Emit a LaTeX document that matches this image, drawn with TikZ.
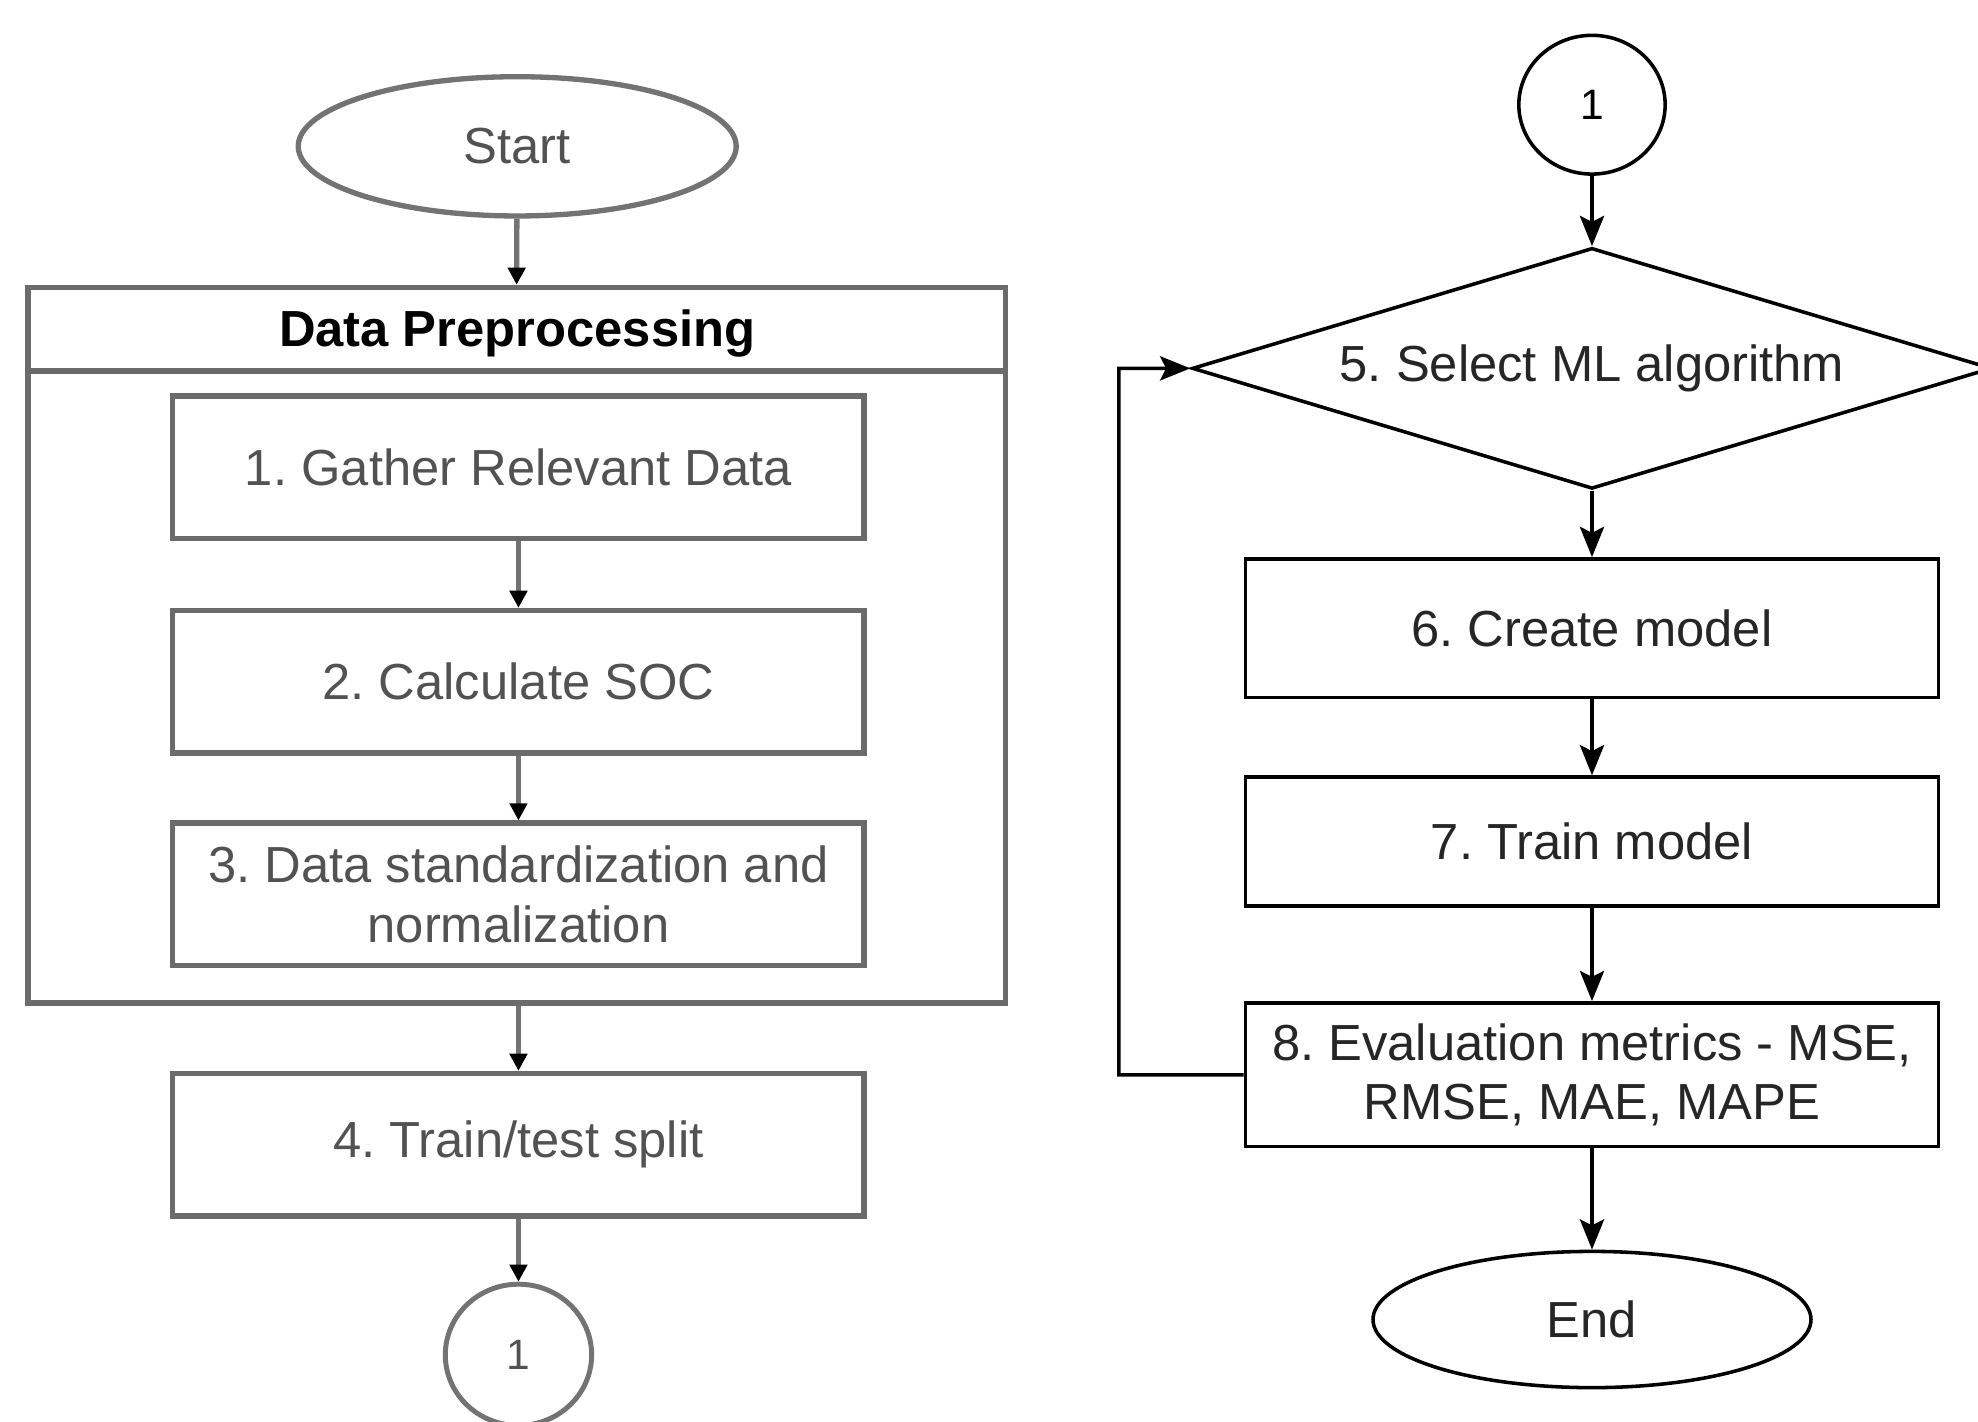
\documentclass[tikz,border=0pt]{standalone}
\usepackage{fontspec}
\setmainfont{Liberation Sans}
\frenchspacing
\usetikzlibrary{shapes.geometric,arrows.meta,positioning}

\begin{document}
\begin{tikzpicture}[node distance=2cm]
    \tikzstyle{prepbox} = [rectangle, minimum width=6.85cm, minimum height=1.4125cm, text centered, align=center, draw=black!58, line width=1.5pt, text=black!68, font=\fontsize{14.3}{16.8}\selectfont]
    \tikzstyle{mlbox} = [rectangle, minimum width=6.87cm, text centered, align=center, draw=black, line width=1pt, text=black!85, font=\fontsize{14.3}{16.8}\selectfont]
    \tikzstyle{terminal} = [ellipse, inner sep=0pt, minimum width=4.34cm, minimum height=1.38cm, font=\fontsize{14.3}{16.8}\selectfont]
    \tikzstyle{connector} = [ellipse, inner sep=0pt, minimum width=1.45cm, minimum height=1.4cm, font=\fontsize{12}{14}\selectfont]
    \tikzstyle{grayline} = [draw=black!55, line width=1.5pt, -{Triangle[length=0.17cm, width=0.17cm, color=black]}]
    \tikzstyle{blackline} = [draw=black, line width=1pt, -{Stealth[length=0.3cm, width=0.24cm, inset=0.06cm]}]

    \useasboundingbox (0,0) rectangle (19.6,-14.0875);
    \clip (0,0) rectangle (19.6,-14.0875);

    % Preprocessing column
    \node [terminal, draw=black!55, line width=1.5pt, text=black!68] (start) at (5.125,-1.45) {Start};
    \node [rectangle, draw=black!58, line width=1.6pt, minimum width=9.6875cm, minimum height=7.0875cm] (prep) at (5.11875,-6.39375) {};
    \draw [draw=black!58, line width=1.6pt] (prep.west |- 0,-3.675) -- (prep.east |- 0,-3.675);
    \node [font=\fontsize{14.3}{16.8}\selectfont\bfseries] (preptitle) at (5.125,-3.3) {Data Preprocessing};

    \node [prepbox] (gather) at (5.1375,-4.63125) {1. Gather Relevant Data};
    \node [prepbox, node distance=2.125cm, below of=gather] (soc) {2. Calculate SOC};
    \node [prepbox, node distance=2.10625cm, below of=soc] (norm) {3. Data standardization and\\normalization};
    \node [prepbox, node distance=2.48125cm, below of=norm] (split) {4. Train/test split};
    \node [connector, draw=black!55, line width=1.4pt, text=black!68, node distance=2.08125cm, below of=split] (linkA) {1};

    % Modelling column
    \node [connector, draw=black, line width=1pt, minimum height=1.375cm] (linkB) at (15.775,-1.0375) {1};
    \node [diamond, aspect=3.32, draw=black, line width=1pt, inner sep=0pt, minimum width=7.925cm, minimum height=2.3875cm, text=black!85, font=\fontsize{14.3}{16.8}\selectfont, node distance=2.6125cm, below of=linkB] (select) {5. Select ML algorithm};
    \node [mlbox, minimum height=1.375cm, node distance=2.575cm, below of=select] (create) {6. Create model};
    \node [mlbox, minimum height=1.275cm, node distance=2.1125cm, below of=create] (train) {7. Train model};
    \node [mlbox, minimum height=1.425cm, node distance=2.3125cm, below of=train] (eval) {8. Evaluation metrics - MSE,\\RMSE, MAE, MAPE};
    \node [terminal, draw=black, line width=1pt, text=black!85, minimum height=1.35cm, node distance=2.425cm, below of=eval] (end) {End};
    \coordinate (back) at (11.0875,-10.65);

    % Connections
    \draw [grayline] (start) -- (prep.north);
    \draw [grayline] (gather) -- (soc);
    \draw [grayline] (soc) -- (norm);
    \draw [grayline] (prep.south -| split) -- (split);
    \draw [grayline] (split) -- (linkA);

    \draw [blackline] (linkB) -- (select);
    \draw [blackline] (select) -- (create);
    \draw [blackline] (create) -- (train);
    \draw [blackline] (train) -- (eval);
    \draw [blackline] (eval) -- (end);

    % Loop back to model selection
    \draw [blackline] (eval.west) -- (back) |- (select.west);
\end{tikzpicture}
\end{document}
